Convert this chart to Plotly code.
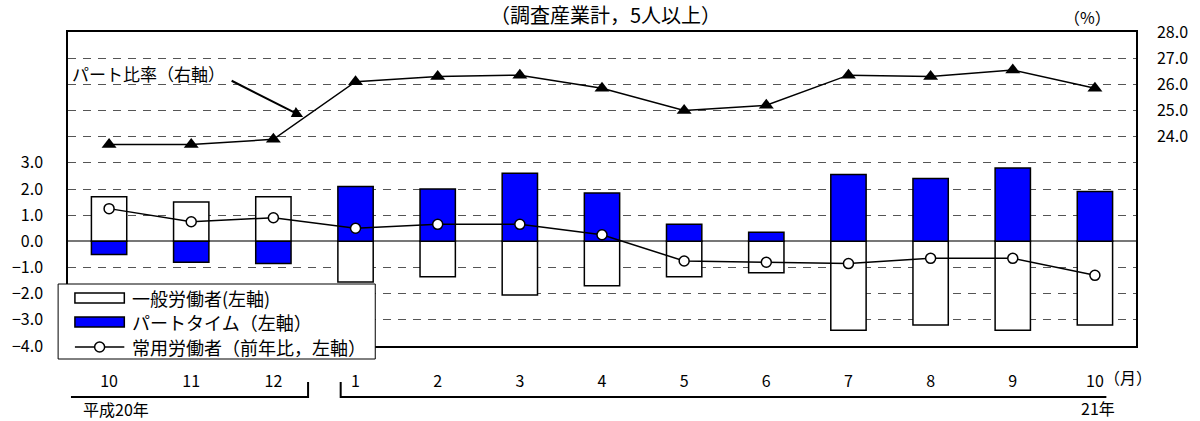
import plotly.graph_objects as go

# ---- data ----
months = ["10", "11", "12", "1", "2", "3", "4", "5", "6", "7", "8", "9", "10"]
general_workers = [1.7, 1.5, 1.7, -1.55, -1.35, -2.05, -1.7, -1.35, -1.2, -3.4, -3.2, -3.4, -3.2]
part_time = [-0.5, -0.8, -0.85, 2.1, 2.0, 2.6, 1.85, 0.65, 0.35, 2.55, 2.4, 2.8, 1.9]
regular_workers = [1.25, 0.75, 0.9, 0.5, 0.65, 0.65, 0.25, -0.75, -0.8, -0.85, -0.65, -0.65, -1.3]
part_ratio = [23.7, 23.7, 23.9, 26.1, 26.3, 26.35, 25.85, 25.0, 25.2, 26.35, 26.3, 26.55, 25.85]

left_ticks = [-4, -3, -2, -1, 0, 1, 2, 3, 4, 5, 6, 7, 8]
left_labels = ["−4.0", "−3.0", "−2.0", "−1.0", "0.0", "1.0", "2.0", "3.0", "", "", "", "", ""]
right_ticks = [24, 25, 26, 27, 28]
right_labels = ["24.0", "25.0", "26.0", "27.0", "28.0"]

FONT = "Noto Sans CJK JP"
W, H = 1200, 421
L, R, T, B = 64, 1145, 32, 346

def px(x):
    return (x - L) / (R - L)

def py(y):
    return (B - y) / (B - T)

xs = list(range(len(months)))

fig = go.Figure()
fig.add_trace(go.Bar(x=xs, y=general_workers, width=0.43, marker=dict(color="white", line=dict(color="black", width=1.5)),
                     name="一般労働者(左軸)", showlegend=False))
fig.add_trace(go.Bar(x=xs, y=part_time, width=0.43, marker=dict(color="#0000FF", line=dict(color="black", width=1.5)),
                     name="パートタイム（左軸）", showlegend=False))
fig.add_trace(go.Scatter(x=xs, y=regular_workers, mode="lines+markers", line=dict(color="black", width=1.5),
                         marker=dict(symbol="circle", size=10, color="white", line=dict(color="black", width=1.5)),
                         name="常用労働者（前年比，左軸）", showlegend=False))
fig.add_trace(go.Scatter(x=xs, y=part_ratio, yaxis="y2", mode="lines+markers", line=dict(color="black", width=1.5),
                         marker=dict(symbol="triangle-up", size=13, color="black"),
                         name="パート比率（右軸）", showlegend=False))

fig.update_layout(
    width=W, height=H,
    margin=dict(l=L, r=W - R, t=T, b=H - B, pad=0),
    paper_bgcolor="white", plot_bgcolor="white",
    font=dict(family=FONT, color="black", size=15),
    barmode="relative",
    bargap=0.5,
    xaxis=dict(range=[-0.5, len(months) - 0.5], tickvals=xs, ticktext=months, showgrid=False,
               showline=True, mirror=True, linecolor="black", linewidth=1.5, ticks="",
               tickfont=dict(size=16), ticklabelstandoff=20, zeroline=False, fixedrange=True),
    yaxis=dict(range=[-4, 8], tickvals=left_ticks, ticktext=left_labels, showgrid=True,
               gridcolor="#555555", griddash="8px,7px", gridwidth=1,
               zeroline=True, zerolinecolor="#777777", zerolinewidth=1.5,
               showline=True, mirror=True, linecolor="black", linewidth=1.5, ticks="",
               tickfont=dict(size=16), ticklabelstandoff=20),
    yaxis2=dict(range=[16, 28], overlaying="y", side="right", tickvals=right_ticks, ticktext=right_labels,
                showgrid=False, zeroline=False, showline=True, linecolor="black", linewidth=1.5, ticks="",
                tickfont=dict(size=16), ticklabelstandoff=16),
)

ann = []
shapes = []

def text(x, y, s, size=15, xanchor="left"):
    ann.append(dict(x=px(x), y=py(y), xref="paper", yref="paper", text=s, showarrow=False,
                    xanchor=xanchor, yanchor="middle", font=dict(family=FONT, size=size, color="black")))

# title & units
text(608, 14, "（調査産業計，5人以上）", size=20, xanchor="center")
text(1096, 17, "（%）", size=16, xanchor="center")
text(1111, 377, "（月）", size=16)

# part ratio label + arrow
text(66, 73, "パート比率（右軸）", size=17)
ann.append(dict(x=px(302), y=py(117), xref="paper", yref="paper", text="", showarrow=True,
                ax=229 - 302, ay=80 - 117, axref="pixel", ayref="pixel",
                arrowhead=2, arrowsize=1.1, arrowwidth=2, arrowcolor="black"))

# year brackets
shapes.append(dict(type="path", xref="paper", yref="paper",
                   path=f"M{px(67)},{py(397)} L{px(307)},{py(397)} L{px(307)},{py(382)}",
                   line=dict(color="black", width=2)))
shapes.append(dict(type="path", xref="paper", yref="paper",
                   path=f"M{px(340)},{py(382)} L{px(340)},{py(397)} L{px(1115)},{py(397)}",
                   line=dict(color="black", width=2)))
text(77, 409, "平成20年", size=16)
text(1087, 408, "21年", size=16)

# manual legend
shapes.append(dict(type="rect", xref="paper", yref="paper", x0=px(54), x1=px(375), y0=py(359), y1=py(284),
                   fillcolor="white", line=dict(color="black", width=1), layer="above"))
shapes.append(dict(type="rect", xref="paper", yref="paper", x0=px(71), x1=px(121), y0=py(303), y1=py(293),
                   fillcolor="white", line=dict(color="black", width=1.5), layer="above"))
shapes.append(dict(type="rect", xref="paper", yref="paper", x0=px(71), x1=px(121), y0=py(327), y1=py(317),
                   fillcolor="#0000FF", line=dict(color="black", width=1.5), layer="above"))
shapes.append(dict(type="line", xref="paper", yref="paper", x0=px(71), x1=px(121), y0=py(347), y1=py(347),
                   line=dict(color="black", width=1.5), layer="above"))
shapes.append(dict(type="circle", xref="paper", yref="paper", xsizemode="pixel", ysizemode="pixel",
                   xanchor=px(96), yanchor=py(347), x0=-5, x1=5, y0=-5, y1=5,
                   fillcolor="white", line=dict(color="black", width=1.5), layer="above"))
text(127, 298, "一般労働者(左軸)", size=18)
text(127, 322, "パートタイム（左軸）", size=18)
text(127, 347, "常用労働者（前年比，左軸）", size=18)

fig.update_layout(annotations=ann, shapes=shapes)
fig.write_html("out.html", config={"displayModeBar": False},
               post_script="document.body.style.margin='0';document.body.style.overflow='hidden';")
